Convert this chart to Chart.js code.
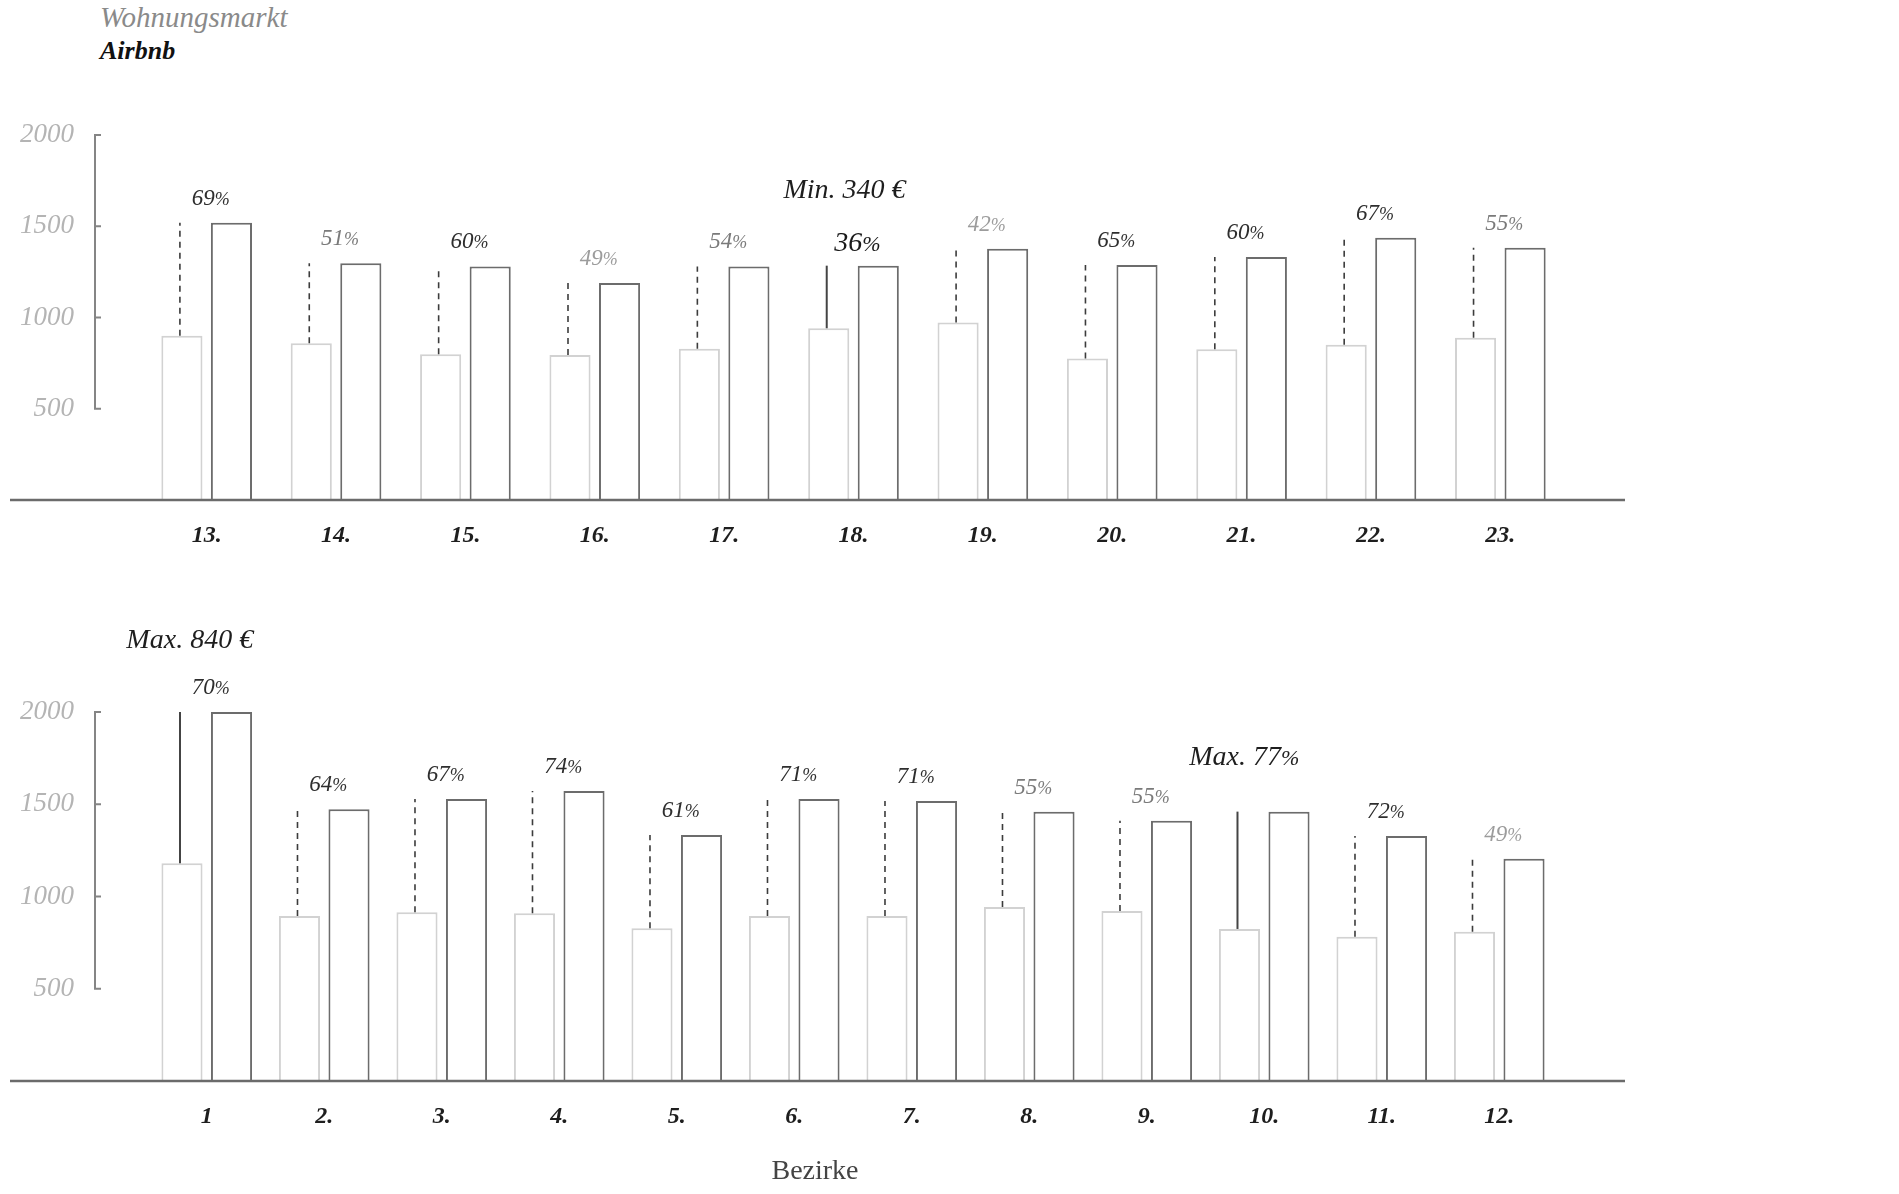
<!DOCTYPE html>
<html>
<head>
<meta charset="utf-8">
<script src="https://cdn.jsdelivr.net/npm/chart.js@4"></script>
<style>
html,body{margin:0;padding:0;background:#fff;width:1899px;height:1194px;overflow:hidden;position:relative;font-family:"Liberation Serif","DejaVu Serif",serif;}
canvas{position:absolute;left:0;}
#cTop{top:0;}
#cBot{top:600px;}
#legend{position:absolute;left:100px;top:1px;}
#legend div{font-style:italic;line-height:33px;white-space:nowrap;}
#xtitle{position:absolute;left:815px;top:1170px;transform:translate(-50%,-50%);font-size:28px;color:#444;white-space:nowrap;}
</style>
</head>
<body>
<div id="legend"></div>
<canvas id="cTop" width="1899" height="600"></canvas>
<canvas id="cBot" width="1899" height="594"></canvas>
<div id="xtitle">Bezirke</div>
<script>
// ---------- data ----------
const seriesNames = ['Wohnungsmarkt', 'Airbnb'];
const axisTitle = 'Bezirke';
const yTicks = [500, 1000, 1500, 2000];

const topDistricts = ['13.', '14.', '15.', '16.', '17.', '18.', '19.', '20.', '21.', '22.', '23.'];
const topMarket    = [900, 859, 798, 794, 829, 941, 972, 776, 826, 851, 889];
const topAirbnb    = [1519, 1297, 1280, 1189, 1280, 1284, 1377, 1288, 1332, 1437, 1382];
const topShare     = [69, 51, 60, 49, 54, 36, 42, 65, 60, 67, 55];

const botDistricts = ['1', '2.', '3.', '4.', '5.', '6.', '7.', '8.', '9.', '10.', '11.', '12.'];
const botMarket    = [1180, 894, 914, 909, 828, 894, 894, 943, 921, 824, 782, 809];
const botAirbnb    = [2000, 1473, 1528, 1572, 1333, 1528, 1518, 1460, 1411, 1460, 1328, 1205];
const botShare     = [70, 64, 67, 74, 61, 71, 71, 55, 55, 77, 72, 49];

const topNotes = ['Min. 340 €'];
const botNotes = ['Max. 840 €', 'Max. 77%'];

// ---------- helpers ----------
const FONT = '"Liberation Serif","DejaVu Serif",serif';

function drawMixed(ctx, text, cx, baseY, size, color, pctScale) {
  // draws text centered at cx, with "%" rendered smaller
  const parts = text.split('%');
  const big = `italic ${size}px ${FONT}`;
  const small = `italic ${Math.round(size * (pctScale || 0.78))}px ${FONT}`;
  const pieces = [];
  parts.forEach((p, i) => {
    if (p) pieces.push([p, big]);
    if (i < parts.length - 1) pieces.push(['%', small]);
  });
  ctx.save();
  ctx.fillStyle = color;
  ctx.textBaseline = 'alphabetic';
  ctx.textAlign = 'left';
  let total = 0;
  const widths = pieces.map(([t, f]) => { ctx.font = f; const w = ctx.measureText(t).width; total += w; return w; });
  let x = cx - total / 2;
  pieces.forEach(([t, f], i) => { ctx.font = f; ctx.fillText(t, x, baseY); x += widths[i]; });
  ctx.restore();
}

function shareColor(p) {
  if (p >= 60) return '#2e2e2e';
  if (p >= 50) return '#7a7a7a';
  return '#9c9c9c';
}

const decorPlugin = {
  id: 'decor',
  afterDatasetsDraw(chart, args, opts) {
    const ctx = chart.ctx;
    const xs = chart.scales.x, ys = chart.scales.y;
    const m0 = chart.getDatasetMeta(0), m1 = chart.getDatasetMeta(1);
    const d1 = chart.data.datasets[1].data;
    const share = opts.share;

    // connectors between market bar and airbnb level
    m0.data.forEach((bar, i) => {
      const solid = opts.solid.includes(i);
      ctx.save();
      ctx.strokeStyle = solid ? '#444' : '#3c3c3c';
      ctx.lineWidth = solid ? 2 : 1.6;
      ctx.setLineDash(solid ? [] : [6, 5]);
      ctx.beginPath();
      ctx.moveTo(bar.x - 2, bar.y);
      ctx.lineTo(bar.x - 2, ys.getPixelForValue(d1[i]));
      ctx.stroke();
      ctx.restore();
    });

    // baseline
    const y0 = ys.getPixelForValue(0);
    ctx.save();
    ctx.strokeStyle = '#6b6b6b';
    ctx.lineWidth = 2.5;
    ctx.beginPath();
    ctx.moveTo(opts.lineFrom, y0);
    ctx.lineTo(opts.lineTo, y0);
    ctx.stroke();

    // y bracket
    const bx = opts.bracketX;
    ctx.strokeStyle = '#858585';
    ctx.lineWidth = 2;
    ctx.beginPath();
    ctx.moveTo(bx, ys.getPixelForValue(yTicks[0]));
    ctx.lineTo(bx, ys.getPixelForValue(yTicks[yTicks.length - 1]));
    yTicks.forEach(v => {
      const py = ys.getPixelForValue(v);
      ctx.moveTo(bx - 1, py);
      ctx.lineTo(bx + 6, py);
    });
    ctx.stroke();
    ctx.restore();

    // share labels
    m1.data.forEach((bar, i) => {
      if (opts.hide.includes(i)) return;
      const cx = xs.getPixelForValue(i) + 4;
      const big = opts.big.includes(i);
      drawMixed(ctx, share[i] + '%', cx, bar.y - (big ? 15 : 18), big ? 28 : 23,
        big ? '#1a1a1a' : shareColor(share[i]));
    });

    // annotations
    opts.notes.forEach(n => {
      const cx = xs.getPixelForValue(n.index) + n.dx;
      const by = ys.getPixelForValue(n.value);
      drawMixed(ctx, n.text, cx, by, 28, '#1e1e1e');
    });
  }
};

function makeChart(id, labels, market, airbnb, share, cfg) {
  return new Chart(document.getElementById(id), {
    type: 'bar',
    data: {
      labels: labels,
      datasets: [
        { label: seriesNames[0], data: market, backgroundColor: '#ffffff', borderColor: '#d2d2d2', borderWidth: 2,
          categoryPercentage: cfg.cat, barPercentage: 0.83 },
        { label: seriesNames[1], data: airbnb, backgroundColor: '#ffffff', borderColor: '#6c6c6c', borderWidth: 2,
          categoryPercentage: cfg.cat, barPercentage: 0.83 }
      ]
    },
    options: {
      responsive: false,
      animation: false,
      devicePixelRatio: 1,
      layout: { padding: { top: cfg.padTop, right: cfg.padRight, left: 0, bottom: 0 } },
      plugins: {
        legend: { display: false },
        tooltip: { enabled: false },
        decor: Object.assign({ share: share, lineFrom: 10, lineTo: 1625, bracketX: 95 }, cfg.decor)
      },
      scales: {
        x: {
          grid: { display: false, drawTicks: false },
          border: { display: false },
          ticks: { padding: 21, color: '#1e1e1e', font: { family: FONT, size: 24, style: 'italic', weight: 'bold' } },
          afterFit(a) { a.height = cfg.xH; }
        },
        y: {
          min: 0, max: 2000,
          grid: { display: false, drawTicks: false },
          border: { display: false },
          ticks: {
            stepSize: 500, padding: cfg.yPad, color: '#b4b4b4',
            font: { family: FONT, size: 27, style: 'italic' },
            callback: v => (yTicks.includes(v) ? String(v) : '')
          },
          afterFit(a) { a.width = cfg.yW; }
        }
      }
    },
    plugins: [decorPlugin]
  });
}

// legend (series names)
const leg = document.getElementById('legend');
seriesNames.forEach((n, i) => {
  const d = document.createElement('div');
  d.textContent = n;
  d.style.color = i === 0 ? '#8a8a8a' : '#111';
  d.style.fontSize = i === 0 ? '29px' : '26px';
  if (i === 1) d.style.fontWeight = 'bold';
  leg.appendChild(d);
});
document.getElementById('xtitle').textContent = axisTitle;

makeChart('cTop', topDistricts, topMarket, topAirbnb, topShare, {
  cat: 0.766, padTop: 135, padRight: 334, xH: 100, yW: 142, yPad: 68,
  decor: { solid: [5], hide: [], big: [5],
    notes: [{ text: topNotes[0], index: 5, dx: -9, value: 1656 }] }
});

makeChart('cBot', botDistricts, botMarket, botAirbnb, botShare, {
  cat: 0.843, padTop: 112, padRight: 341, xH: 113, yW: 148, yPad: 74,
  decor: { solid: [0, 9], hide: [9], big: [],
    notes: [{ text: botNotes[0], index: 0, dx: -17, value: 2347 },
            { text: botNotes[1], index: 9, dx: -20, value: 1713 }] }
});
</script>
</body>
</html>
